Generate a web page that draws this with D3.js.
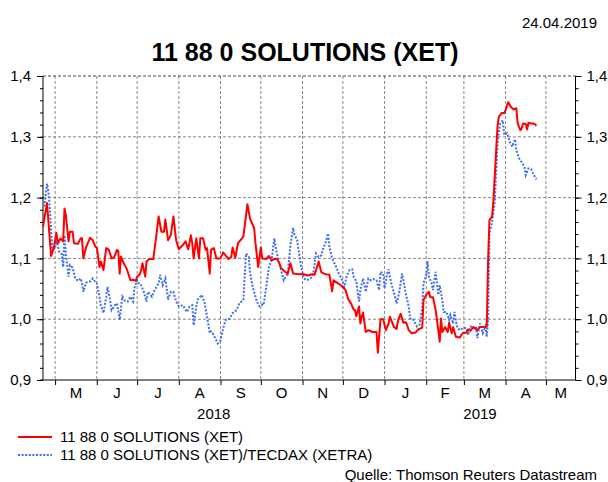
<!DOCTYPE html>
<html>
<head>
<meta charset="utf-8">
<script src="https://cdn.jsdelivr.net/npm/d3@7"></script>
<style>
	body { margin: 0; background: #fff; }
	svg text { font-family: "Liberation Sans", Arial, sans-serif; fill: #000; }
</style>
</head>
<body>
<svg id="chart" width="608" height="482"></svg>
<script>
	//chart data

	var xetDates = ["2018-04-22","2018-04-25","2018-04-28","2018-04-30","2018-05-02","2018-05-03","2018-05-05","2018-05-07","2018-05-08","2018-05-09",
		"2018-05-11","2018-05-12","2018-05-14","2018-05-15","2018-05-18","2018-05-20","2018-05-21","2018-05-22","2018-05-24","2018-05-27",
		"2018-05-29","2018-05-31","2018-06-01","2018-06-03","2018-06-04","2018-06-06","2018-06-08","2018-06-10","2018-06-12","2018-06-14",
		"2018-06-16","2018-06-17","2018-06-18","2018-06-19","2018-06-21","2018-06-23","2018-06-24","2018-06-26","2018-06-28","2018-06-30",
		"2018-07-01","2018-07-03","2018-07-04","2018-07-05","2018-07-07","2018-07-08","2018-07-10","2018-07-13","2018-07-15","2018-07-17",
		"2018-07-19","2018-07-21","2018-07-22","2018-07-24","2018-07-26","2018-07-28","2018-07-30","2018-08-01","2018-08-04","2018-08-06",
		"2018-08-08","2018-08-10","2018-08-11","2018-08-12","2018-08-14","2018-08-16","2018-08-17","2018-08-19","2018-08-21","2018-08-22",
		"2018-08-24","2018-08-25","2018-08-27","2018-08-29","2018-09-01","2018-09-03","2018-09-04","2018-09-07","2018-09-09","2018-09-10",
		"2018-09-12","2018-09-14","2018-09-17","2018-09-18","2018-09-21","2018-09-23","2018-09-26","2018-09-27","2018-09-29","2018-10-01",
		"2018-10-02","2018-10-05","2018-10-07","2018-10-09","2018-10-11","2018-10-13","2018-10-15","2018-10-16","2018-10-19","2018-10-21",
		"2018-10-23","2018-10-25","2018-10-29","2018-11-02","2018-11-05","2018-11-08","2018-11-10","2018-11-13","2018-11-15","2018-11-18",
		"2018-11-21","2018-11-23","2018-11-24","2018-11-26","2018-11-30","2018-12-03","2018-12-05","2018-12-07","2018-12-09","2018-12-10",
		"2018-12-11","2018-12-13","2018-12-14","2018-12-15","2018-12-16","2018-12-18","2018-12-20","2018-12-23","2018-12-26","2018-12-27",
		"2018-12-29","2018-12-31","2019-01-02","2019-01-04","2019-01-05","2019-01-08","2019-01-10","2019-01-11","2019-01-13","2019-01-15",
		"2019-01-17","2019-01-19","2019-01-21","2019-01-24","2019-01-26","2019-01-29","2019-01-30","2019-02-01","2019-02-03","2019-02-04",
		"2019-02-06","2019-02-08","2019-02-09","2019-02-11","2019-02-12","2019-02-13","2019-02-15","2019-02-17","2019-02-18","2019-02-20",
		"2019-02-21","2019-02-23","2019-02-26","2019-02-28","2019-03-03","2019-03-04","2019-03-06","2019-03-08","2019-03-11","2019-03-13",
		"2019-03-16","2019-03-18","2019-03-19","2019-03-20","2019-03-22","2019-03-23","2019-03-25","2019-03-26","2019-03-27","2019-03-29",
		"2019-03-31","2019-04-01","2019-04-03","2019-04-05","2019-04-07","2019-04-09","2019-04-10","2019-04-12","2019-04-13","2019-04-14",
		"2019-04-16","2019-04-17","2019-04-18","2019-04-20","2019-04-22","2019-04-24"];

	var xetValues = [1.152,1.191,1.104,1.117,1.142,1.125,1.133,1.128,1.182,1.171,
		1.128,1.144,1.144,1.125,1.124,1.133,1.133,1.100,1.118,1.134,
		1.130,1.119,1.118,1.086,1.095,1.081,1.117,1.114,1.100,1.102,
		1.114,1.112,1.075,1.103,1.092,1.084,1.078,1.064,1.065,1.063,
		1.070,1.074,1.081,1.092,1.070,1.095,1.099,1.099,1.133,1.169,
		1.144,1.144,1.164,1.130,1.138,1.169,1.130,1.115,1.122,1.128,
		1.115,1.138,1.125,1.100,1.133,1.100,1.133,1.133,1.114,1.117,
		1.075,1.114,1.117,1.100,1.100,1.110,1.107,1.099,1.102,1.118,
		1.101,1.125,1.133,1.136,1.189,1.165,1.150,1.125,1.086,1.118,
		1.100,1.099,1.104,1.097,1.099,1.099,1.091,1.084,1.078,1.075,
		1.092,1.075,1.074,1.074,1.072,1.074,1.073,1.095,1.077,1.074,
		1.073,1.046,1.064,1.061,1.055,1.048,1.033,1.026,1.016,1.015,
		1.005,1.021,0.993,1.004,1.011,0.979,0.982,0.979,0.979,0.945,
		1.000,1.000,0.982,0.993,1.004,0.987,0.984,0.998,1.009,0.994,
		0.995,0.982,0.977,0.978,0.983,0.986,1.032,1.040,1.045,1.036,
		1.036,1.015,0.999,0.963,1.001,0.979,0.987,0.979,0.994,0.977,
		0.987,0.971,0.970,0.977,0.978,0.983,0.981,0.987,0.982,0.987,
		0.987,0.988,1.097,1.163,1.169,1.196,1.278,1.317,1.333,1.339,
		1.339,1.344,1.357,1.349,1.345,1.347,1.322,1.311,1.314,1.322,
		1.321,1.312,1.323,1.322,1.322,1.318];

	var relDates = ["2018-04-23","2018-04-25","2018-04-26","2018-04-27","2018-04-28","2018-04-29","2018-05-01","2018-05-02","2018-05-04","2018-05-06",
		"2018-05-07","2018-05-08","2018-05-09","2018-05-11","2018-05-12","2018-05-14","2018-05-16","2018-05-18","2018-05-20","2018-05-21",
		"2018-05-22","2018-05-24","2018-05-26","2018-05-27","2018-05-29","2018-05-31","2018-06-01","2018-06-03","2018-06-04","2018-06-06",
		"2018-06-08","2018-06-09","2018-06-11","2018-06-12","2018-06-14","2018-06-16","2018-06-18","2018-06-20","2018-06-22","2018-06-24",
		"2018-06-26","2018-06-28","2018-06-29","2018-07-01","2018-07-03","2018-07-04","2018-07-06","2018-07-08","2018-07-09","2018-07-12",
		"2018-07-14","2018-07-17","2018-07-18","2018-07-20","2018-07-22","2018-07-24","2018-07-26","2018-07-28","2018-07-30","2018-08-01",
		"2018-08-04","2018-08-07","2018-08-09","2018-08-11","2018-08-12","2018-08-14","2018-08-15","2018-08-18","2018-08-20","2018-08-22",
		"2018-08-24","2018-08-25","2018-08-27","2018-08-30","2018-09-01","2018-09-03","2018-09-05","2018-09-08","2018-09-10","2018-09-13",
		"2018-09-15","2018-09-18","2018-09-20","2018-09-22","2018-09-23","2018-09-25","2018-09-28","2018-09-30","2018-10-02","2018-10-03",
		"2018-10-05","2018-10-07","2018-10-09","2018-10-11","2018-10-12","2018-10-14","2018-10-16","2018-10-18","2018-10-20","2018-10-21",
		"2018-10-23","2018-10-25","2018-10-26","2018-10-28","2018-10-29","2018-10-31","2018-11-02","2018-11-04","2018-11-07","2018-11-09",
		"2018-11-11","2018-11-13","2018-11-15","2018-11-16","2018-11-18","2018-11-20","2018-11-21","2018-11-23","2018-11-26","2018-11-28",
		"2018-11-30","2018-12-02","2018-12-04","2018-12-06","2018-12-08","2018-12-09","2018-12-11","2018-12-13","2018-12-14","2018-12-16",
		"2018-12-18","2018-12-20","2018-12-22","2018-12-24","2018-12-26","2018-12-28","2018-12-29","2018-12-31","2019-01-01","2019-01-03",
		"2019-01-04","2019-01-06","2019-01-08","2019-01-10","2019-01-12","2019-01-14","2019-01-15","2019-01-17","2019-01-19","2019-01-20",
		"2019-01-22","2019-01-25","2019-01-27","2019-01-29","2019-01-30","2019-02-01","2019-02-02","2019-02-03","2019-02-05","2019-02-06",
		"2019-02-08","2019-02-10","2019-02-11","2019-02-13","2019-02-14","2019-02-16","2019-02-18","2019-02-19","2019-02-21","2019-02-22",
		"2019-02-24","2019-02-26","2019-03-01","2019-03-03","2019-03-04","2019-03-06","2019-03-08","2019-03-10","2019-03-11","2019-03-13",
		"2019-03-15","2019-03-17","2019-03-18","2019-03-19","2019-03-20","2019-03-22","2019-03-24","2019-03-26","2019-03-27","2019-03-28",
		"2019-03-30","2019-03-31","2019-04-02","2019-04-03","2019-04-04","2019-04-06","2019-04-07","2019-04-08","2019-04-09","2019-04-11",
		"2019-04-13","2019-04-15","2019-04-16","2019-04-18","2019-04-20","2019-04-22","2019-04-24"];

	var relValues = [1.185,1.223,1.210,1.185,1.147,1.114,1.117,1.130,1.111,1.107,
		1.086,1.138,1.107,1.070,1.089,1.085,1.067,1.063,1.067,1.060,
		1.045,1.060,1.062,1.062,1.067,1.061,1.059,1.037,1.023,1.010,
		1.037,1.053,1.030,1.015,1.022,1.026,0.999,1.037,1.030,1.029,
		1.037,1.029,1.051,1.064,1.056,1.056,1.045,1.029,1.045,1.037,
		1.048,1.059,1.073,1.056,1.067,1.032,1.045,1.045,1.029,1.021,
		1.023,1.012,1.021,1.023,0.990,1.021,1.032,1.040,1.029,1.004,
		0.977,0.980,0.974,0.960,0.965,0.985,0.999,1.001,1.010,1.015,
		1.026,1.032,1.108,1.103,1.075,1.053,1.029,1.021,1.024,1.023,
		1.053,1.086,1.097,1.133,1.119,1.097,1.081,1.064,1.072,1.073,
		1.122,1.150,1.139,1.130,1.114,1.086,1.067,1.064,1.067,1.075,
		1.108,1.102,1.105,1.114,1.125,1.141,1.119,1.100,1.086,1.075,
		1.067,1.053,1.072,1.081,1.082,1.070,1.062,1.029,1.048,1.067,
		1.045,1.067,1.064,1.066,1.064,1.048,1.078,1.075,1.051,1.075,
		1.082,1.059,1.043,1.026,1.045,1.075,1.064,1.040,1.021,1.001,
		1.001,0.988,0.991,1.018,1.059,1.073,1.095,1.070,1.059,1.048,
		1.078,1.040,1.056,1.031,1.012,1.012,0.999,1.007,0.993,1.012,
		0.986,0.982,0.986,0.985,0.974,0.988,0.985,0.988,0.969,0.993,
		0.977,0.988,0.971,0.999,1.141,1.160,1.196,1.289,1.308,1.322,
		1.327,1.303,1.306,1.300,1.292,1.284,1.290,1.296,1.278,1.265,
		1.258,1.251,1.237,1.248,1.247,1.237,1.230];

	var yTicks = [0.9, 1.0, 1.1, 1.2, 1.3, 1.4];
	var monthLabels = ["M","J","J","A","S","O","N","D","J","F","M","A","M"];
	var yearLabels = ["2018", "2019"];

	var titleText = "11 88 0 SOLUTIONS (XET)";
	var dateText = "24.04.2019";
	var legendNames = ["11 88 0 SOLUTIONS (XET)", "11 88 0 SOLUTIONS (XET)/TECDAX (XETRA)"];
	var sourceText = "Quelle: Thomson Reuters Datastream";

	var parseDate = d3.timeParse("%Y-%m-%d");
	var commaFmt = function(v) { return d3.format(".1f")(v).replace(".", ","); };

	var svg = d3.select("#chart");
	// plot box (window.top is taken, so own names)
	var pLeft = 43, pRight = 575.5, pTop = 76, pBottom = 380;

	var x = d3.scaleTime()
		.domain([parseDate("2018-04-22"), parseDate("2019-05-23")])
		.range([pLeft, pRight]);

	var y = d3.scaleLinear()
		.domain([0.9, 1.4])
		.range([pBottom, pTop]);

	var xet = xetDates.map(function(d, i) { return { date: parseDate(d), value: xetValues[i] }; });
	var rel = relDates.map(function(d, i) { return { date: parseDate(d), value: relValues[i] }; });

	var monthStarts = d3.timeMonth.range(parseDate("2018-05-01"), parseDate("2019-05-02"));

	// grid lines
	var grid = svg.append("g").attr("class", "grid");

	grid.selectAll(".vgrid")
		.data(monthStarts)
		.enter().append("line")
		.attr("x1", function(d) { return x(d); })
		.attr("x2", function(d) { return x(d); })
		.attr("y1", pTop).attr("y2", pBottom)
		.attr("stroke", "#888")
		.attr("stroke-dasharray", "3,2");

	grid.selectAll(".hgrid")
		.data(yTicks.slice(1))
		.enter().append("line")
		.attr("x1", pLeft).attr("x2", pRight)
		.attr("y1", function(d) { return y(d); })
		.attr("y2", function(d) { return y(d); })
		.attr("stroke", function(d) { return d === 1.4 ? "#444" : "#888"; })
		.attr("stroke-dasharray", "3,2");

	// axes
	var minor = d3.range(0.9, 1.4001, 0.02);

	svg.append("g")
		.attr("transform", "translate(" + pLeft + ",0)")
		.call(d3.axisLeft(y).tickValues(minor).tickSize(3).tickFormat(""))
		.call(function(g) { g.select(".domain").remove(); });
	svg.append("g")
		.attr("transform", "translate(" + pRight + ",0)")
		.call(d3.axisRight(y).tickValues(minor).tickSize(3).tickFormat(""))
		.call(function(g) { g.select(".domain").remove(); });

	svg.append("g")
		.attr("transform", "translate(" + pLeft + ",0)")
		.call(d3.axisLeft(y).tickValues(yTicks).tickSize(6).tickFormat(""))
		.call(function(g) { g.select(".domain").remove(); });
	svg.append("g")
		.attr("transform", "translate(" + pRight + ",0)")
		.call(d3.axisRight(y).tickValues(yTicks).tickSize(6).tickFormat(""))
		.call(function(g) { g.select(".domain").remove(); });

	svg.append("g")
		.attr("transform", "translate(0," + pBottom + ")")
		.call(d3.axisBottom(x).tickValues(monthStarts).tickSize(5).tickFormat(""))
		.call(function(g) { g.select(".domain").remove(); });

	svg.selectAll(".tick line").attr("stroke", "#000");

	// frame
	svg.append("line").attr("x1", pLeft).attr("x2", pLeft).attr("y1", pTop).attr("y2", pBottom).attr("stroke", "#000");
	svg.append("line").attr("x1", pRight).attr("x2", pRight).attr("y1", pTop).attr("y2", pBottom).attr("stroke", "#000");
	svg.append("line").attr("x1", pLeft - 3).attr("x2", pRight).attr("y1", pBottom).attr("y2", pBottom).attr("stroke", "#000");

	// y labels both sides
	svg.selectAll(".ylabL")
		.data(yTicks)
		.enter().append("text")
		.attr("x", pLeft - 12)
		.attr("y", function(d) { return y(d); })
		.attr("dy", "0.35em")
		.attr("text-anchor", "end")
		.style("font-size", "15px")
		.text(commaFmt);

	svg.selectAll(".ylabR")
		.data(yTicks)
		.enter().append("text")
		.attr("x", pRight + 11)
		.attr("y", function(d) { return y(d); })
		.attr("dy", "0.35em")
		.style("font-size", "15px")
		.text(commaFmt);

	// month letters, centred in each visible month
	svg.selectAll(".mlab")
		.data(monthStarts)
		.enter().append("text")
		.attr("x", function(d) {
			var end = Math.min(x(d3.timeMonth.offset(d, 1)), pRight);
			return (x(d) + end) / 2;
		})
		.attr("y", pBottom + 18)
		.attr("text-anchor", "middle")
		.style("font-size", "15px")
		.text(function(d, i) { return monthLabels[i]; });

	// years, centred on the visible part
	svg.selectAll(".yrlab")
		.data(yearLabels)
		.enter().append("text")
		.attr("x", function(d) {
			var a = Math.max(x(parseDate(d + "-01-01")), pLeft);
			var b = Math.min(x(parseDate((+d + 1) + "-01-01")), pRight);
			return (a + b) / 2;
		})
		.attr("y", pBottom + 39)
		.attr("text-anchor", "middle")
		.style("font-size", "15px")
		.text(function(d) { return d; });

	// series
	var line = d3.line()
		.x(function(d) { return x(d.date); })
		.y(function(d) { return y(d.value); });

	svg.append("path")
		.datum(rel)
		.attr("d", line)
		.attr("fill", "none")
		.attr("stroke", "#3d6ff0")
		.attr("stroke-width", 2)
		.attr("stroke-dasharray", "2,1.6");

	svg.append("path")
		.datum(xet)
		.attr("d", line)
		.attr("fill", "none")
		.attr("stroke", "#ff0000")
		.attr("stroke-width", 2)
		.attr("stroke-linejoin", "round");

	// titles
	svg.append("text")
		.attr("x", 597).attr("y", 28)
		.attr("text-anchor", "end")
		.style("font-size", "15px")
		.text(dateText);

	svg.append("text")
		.attr("x", 305).attr("y", 61)
		.attr("text-anchor", "middle")
		.style("font-size", "25px")
		.style("font-weight", "bold")
		.text(titleText);

	// legend
	var legend = svg.append("g").attr("transform", "translate(0,437)");
	var legendStyles = [
		{ stroke: "#ff0000", dash: null },
		{ stroke: "#3d6ff0", dash: "2,1.6" }
	];

	legendNames.forEach(function(name, i) {
		legend.append("line")
			.attr("x1", 18).attr("x2", 52)
			.attr("y1", i * 18).attr("y2", i * 18)
			.attr("stroke", legendStyles[i].stroke)
			.attr("stroke-width", 2)
			.attr("stroke-dasharray", legendStyles[i].dash);
		legend.append("text")
			.attr("x", 60).attr("y", i * 18)
			.attr("dy", "0.35em")
			.style("font-size", "15px")
			.text(name);
	});

	svg.append("text")
		.attr("x", 597).attr("y", 480)
		.attr("text-anchor", "end")
		.style("font-size", "15px")
		.text(sourceText);
</script>
</body>
</html>
